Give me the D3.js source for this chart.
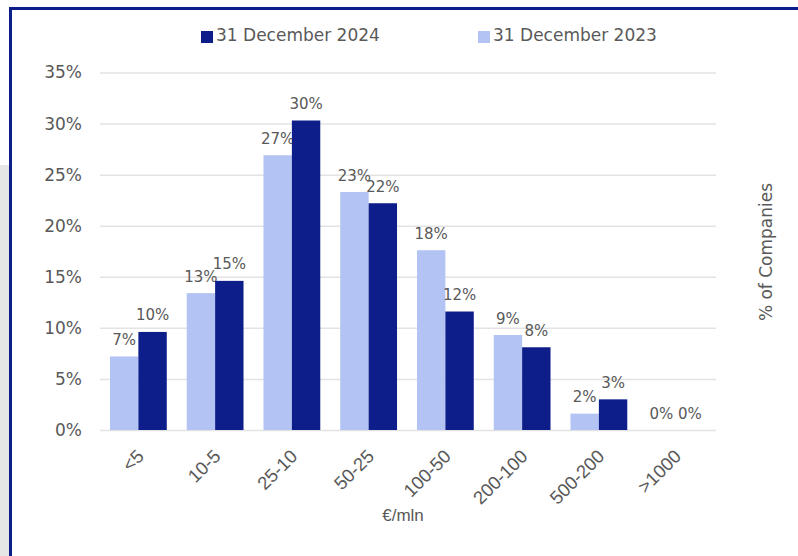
<!DOCTYPE html>
<html>
<head>
<meta charset="utf-8">
<script src="https://cdn.jsdelivr.net/npm/d3@7"></script>
<style>
  body { margin: 0; background: #fff; }
  svg { display: block; }
</style>
</head>
<body>
<svg id="chart"></svg>
<script>
// company size buckets (€/mln) and share of companies per year
var categories = ["<5", "10-5", "25-10", "50-25", "100-50", "200-100", "500-200", ">1000"]
var values2023 = [7.2, 13.4, 26.9, 23.3, 17.6, 9.3, 1.6, 0]
var values2024 = [9.6, 14.6, 30.3, 22.2, 11.6, 8.1, 3.0, 0]
var seriesNames = ["31 December 2024", "31 December 2023"]
var yTicks = [0, 5, 10, 15, 20, 25, 30, 35]

var dimensions = {
	width: 798,
	height: 556,
	margin: { top: 72.5, bottom: 126, left: 100, right: 84 }
}
var darkBlue = "#0d1e8a"
var lightBlue = "#b3c3f3"
var textColor = "#595959"

var svg = d3.select("#chart")
	.attr("width", dimensions.width)
	.attr("height", dimensions.height)

// grey strip on the left and the blue frame
svg.append("rect")
	.attr("x", 0).attr("y", 165)
	.attr("width", 9).attr("height", dimensions.height - 165)
	.attr("fill", "#e6e6e6")
svg.append("rect")
	.attr("x", 10.5).attr("y", 8.5)
	.attr("width", dimensions.width + 20).attr("height", dimensions.height + 20)
	.attr("fill", "#fff")
	.attr("stroke", darkBlue)
	.attr("stroke-width", 3)

var xScale = d3.scaleBand()
	.domain(categories)
	.range([dimensions.margin.left, dimensions.width - dimensions.margin.right])
	.paddingInner(0.26)
	.paddingOuter(0.13)

var subScale = d3.scaleBand()
	.domain(["2023", "2024"])
	.range([0, xScale.bandwidth()])

var yScale = d3.scaleLinear()
	.domain([0, 35])
	.range([dimensions.height - dimensions.margin.bottom, dimensions.margin.top])

// gridlines + y labels
var yAxisgen = d3.axisLeft(yScale)
	.tickValues(yTicks)
	.tickSize(-(dimensions.width - dimensions.margin.right - dimensions.margin.left + 2))
	.tickPadding(18)
	.tickFormat(d => d + "%")

var yAxis = svg.append("g")
	.attr("transform", "translate(" + dimensions.margin.left + ",0)")
	.call(yAxisgen)
yAxis.select(".domain").remove()
yAxis.selectAll("line")
	.attr("x1", 0)
	.attr("x2", dimensions.width - dimensions.margin.right - dimensions.margin.left + 2)
	.attr("stroke", "#e3e3e3")
	.attr("stroke-width", 1.5)
yAxis.selectAll("text")
	.attr("x", -18)
	.style("font-family", "DejaVu Sans, Verdana, sans-serif")
	.style("font-size", "17px")
	.attr("fill", textColor)

var series = [
	{ key: "2023", values: values2023, color: lightBlue },
	{ key: "2024", values: values2024, color: darkBlue }
]

series.forEach(function (s) {
	var g = svg.append("g")
	g.selectAll("rect")
		.data(s.values)
		.enter()
		.append("rect")
		.attr("x", (d, i) => xScale(categories[i]) + subScale(s.key))
		.attr("y", d => yScale(d))
		.attr("width", subScale.bandwidth())
		.attr("height", d => yScale(0) - yScale(d))
		.attr("fill", s.color)

	g.selectAll("text")
		.data(s.values)
		.enter()
		.append("text")
		.attr("x", (d, i) => xScale(categories[i]) + subScale(s.key) + subScale.bandwidth() / 2)
		.attr("y", d => yScale(d) - 11.5)
		.attr("text-anchor", "middle")
		.style("font-family", "DejaVu Sans, Verdana, sans-serif")
		.style("font-size", "15px")
		.attr("fill", textColor)
		.text(d => Math.round(d) + "%")
})

// x labels, rotated
svg.append("g")
	.selectAll("text")
	.data(categories)
	.enter()
	.append("text")
	.attr("transform", d => "translate(" + (xScale(d) + xScale.bandwidth() / 2 + 2) + "," + (dimensions.height - dimensions.margin.bottom + 23) + ") rotate(-45)")
	.attr("text-anchor", "end")
	.attr("dy", "0.35em")
	.style("font-family", "Liberation Sans, Arial, sans-serif")
	.style("font-size", "18.5px")
	.attr("fill", textColor)
	.text(d => d)

svg.append("text")
	.attr("x", 403)
	.attr("y", 521)
	.attr("text-anchor", "middle")
	.style("font-family", "Liberation Sans, Arial, sans-serif")
	.style("font-size", "17px")
	.attr("fill", textColor)
	.text("€/mln")

svg.append("text")
	.attr("transform", "translate(772,252) rotate(-90)")
	.attr("text-anchor", "middle")
	.style("font-family", "DejaVu Sans, Verdana, sans-serif")
	.style("font-size", "17px")
	.attr("fill", textColor)
	.text("% of Companies")

// legend
var legendX = [201, 478]
var legendColor = [darkBlue, lightBlue]
var legend = svg.append("g")
legend.selectAll("rect")
	.data(seriesNames)
	.enter()
	.append("rect")
	.attr("x", (d, i) => legendX[i])
	.attr("y", 31)
	.attr("width", 12)
	.attr("height", 12)
	.attr("fill", (d, i) => legendColor[i])
legend.selectAll("text")
	.data(seriesNames)
	.enter()
	.append("text")
	.attr("x", (d, i) => legendX[i] + 15)
	.attr("y", 41)
	.style("font-family", "DejaVu Sans, Verdana, sans-serif")
	.style("font-size", "17px")
	.attr("fill", textColor)
	.text(d => d)
</script>
</body>
</html>
